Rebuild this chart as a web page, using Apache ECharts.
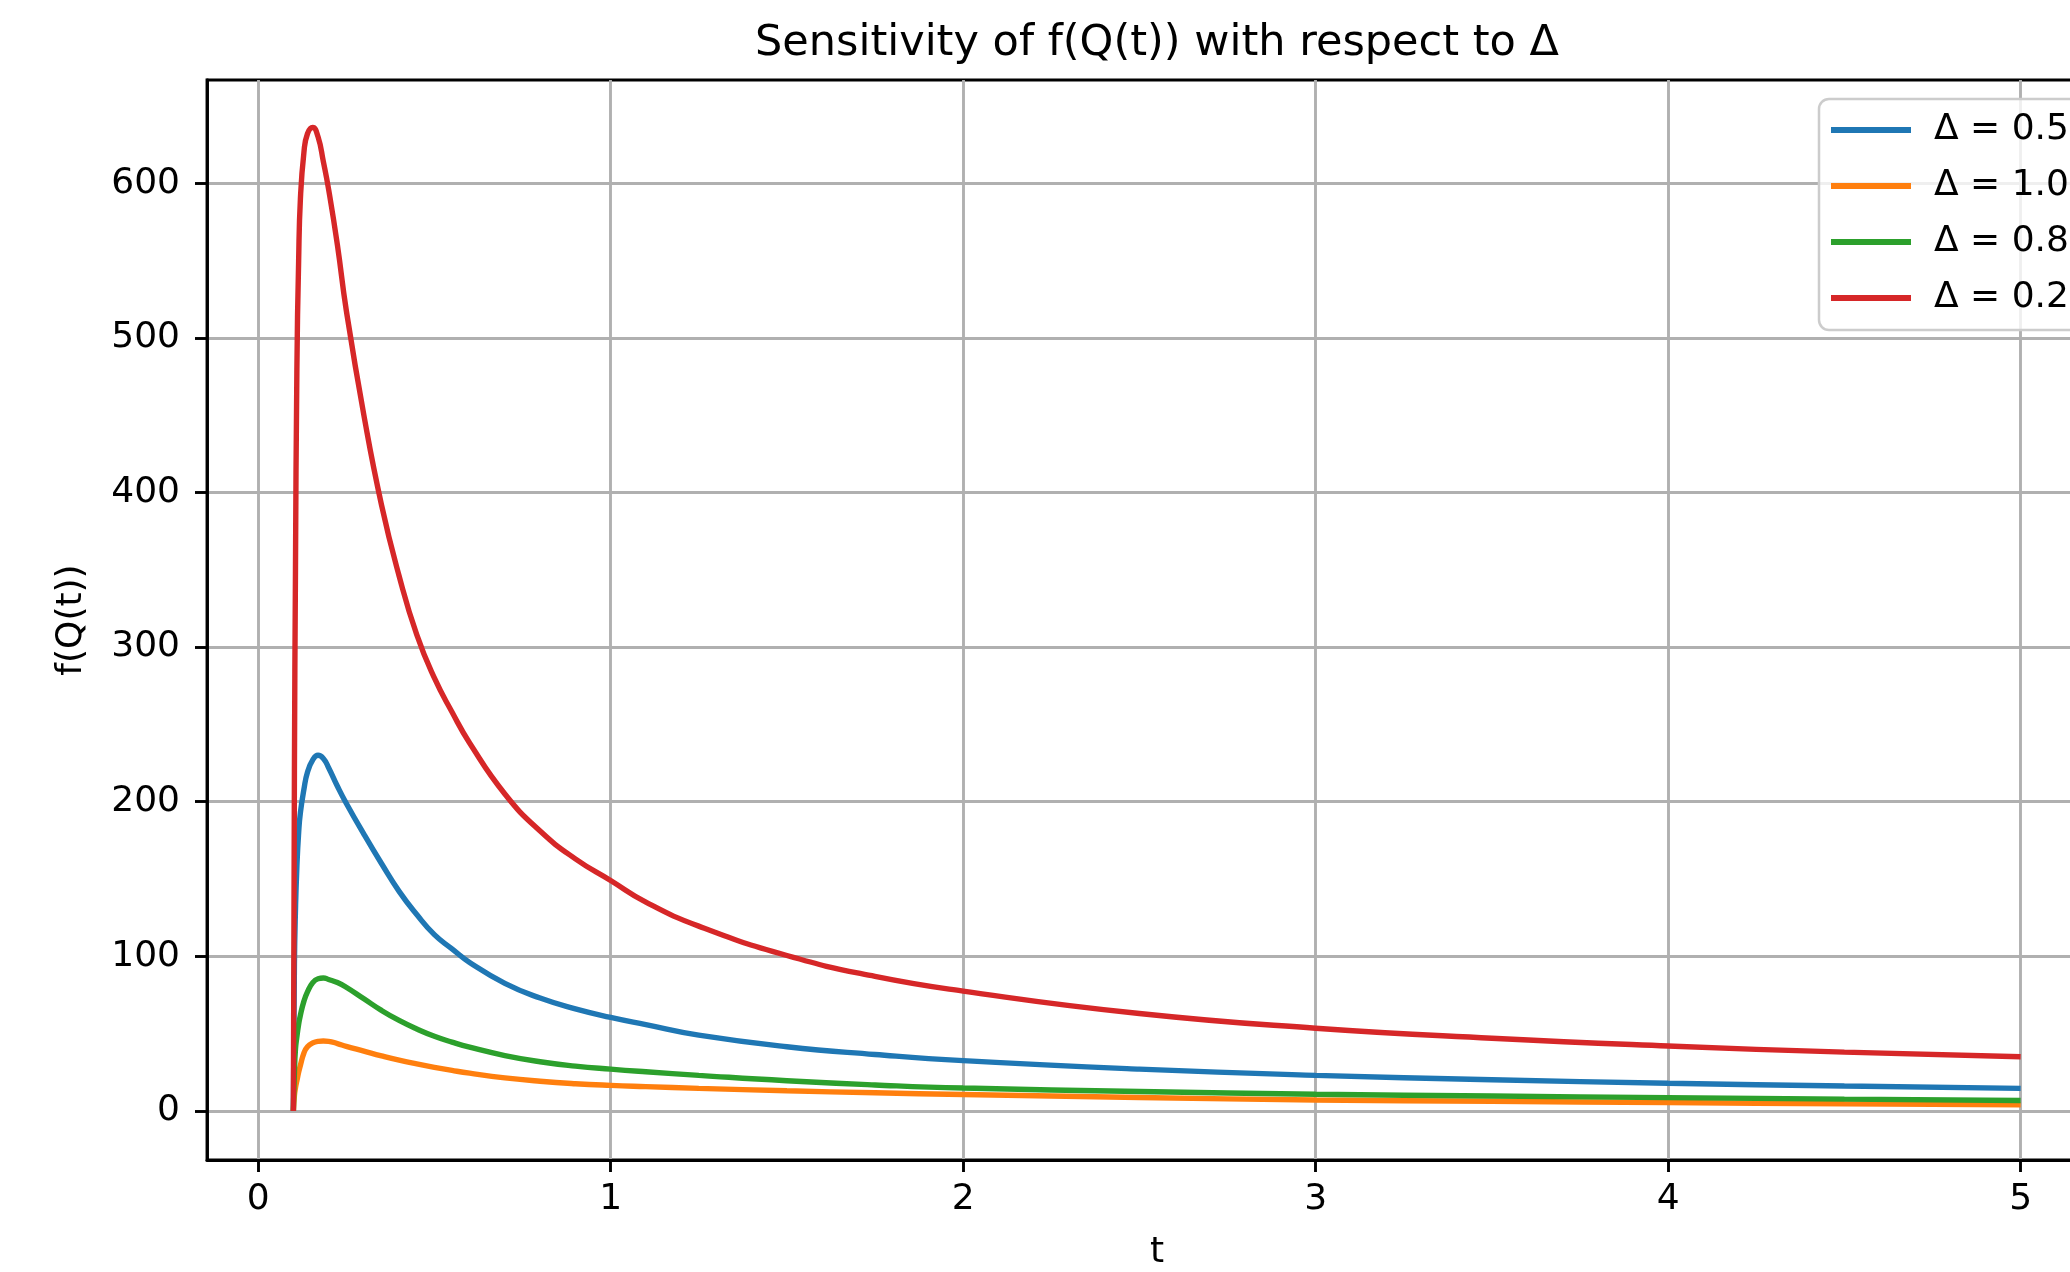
<!DOCTYPE html>
<html lang="en">
<head>
  <meta charset="UTF-8">
  <title>Sensitivity of f(Q(t))</title>
  <script src="https://cdn.jsdelivr.net/npm/echarts@6/dist/echarts.min.js"></script>
  <style>
    html, body { margin: 0; padding: 0; background: #fff; }
    #chart { width: 2070px; height: 1272px; }
  </style>
</head>
<body>
<div id="chart"></div>
<script>
  // sample times (t) shared by all curves
  let tValues = [0.1, 0.103, 0.106, 0.11, 0.115, 0.12, 0.13, 0.14, 0.155, 0.17, 0.185, 0.2, 0.225, 0.25,
    0.3, 0.35, 0.4, 0.45, 0.5, 0.55, 0.6, 0.7, 0.8, 0.9, 1.0, 1.1, 1.25, 1.5, 1.75, 2.0, 2.5, 3.0, 3.5, 4.0, 4.5, 5.0];

  // f(Q(t)), one list per delta
  let fDelta05 = [0, 95, 130, 158, 180, 193, 208, 219, 227, 230, 228, 222, 210, 199,
    179, 160, 142, 127, 114, 104.8, 96, 82.5, 73, 66, 60.5, 55.8, 49, 41.5, 36.5, 32.5, 27, 23, 20.2, 17.9, 16.1, 14.6];
  let fDelta10 = [0, 10, 15, 19.5, 25, 29.5, 37.5, 41.5, 44, 45, 45.2, 45, 43.5, 41.8,
    38.7, 35.6, 32.8, 30.4, 28.2, 26.2, 24.4, 21.4, 19.2, 17.6, 16.5, 15.7, 14.6, 13, 11.7, 10.6, 8.7, 7.1, 6.2, 5.4, 4.6, 3.9];
  let fDelta08 = [0, 25, 40, 48, 56, 62, 71, 77, 83, 85.5, 86, 85, 83, 80,
    72.5, 65, 58.5, 53, 48.3, 44.5, 41.2, 35.8, 31.8, 29, 27, 25.3, 23, 19.5, 16.8, 14.8, 12.6, 10.8, 9.6, 8.6, 7.6, 6.7];
  let fDelta02 = [0, 220, 350, 480, 550, 590, 620, 632, 636, 630, 614, 596, 560, 518,
    450, 392, 346, 308, 280, 258, 238, 205, 181, 163, 149, 135, 119.5, 100.5, 87, 77.5, 63, 53.5, 47, 42, 38, 35];

  let seriesNames = ['Δ = 0.5', 'Δ = 1.0', 'Δ = 0.8', 'Δ = 0.2'];
  let seriesColors = ['#1f77b4', '#ff7f0e', '#2ca02c', '#d62728'];
  let seriesValues = [fDelta05, fDelta10, fDelta08, fDelta02];

  let xTicks = [0, 1, 2, 3, 4, 5];
  let yTicks = [0, 100, 200, 300, 400, 500, 600];

  let font = 'DejaVu Sans';
  let oDiv = document.getElementById('chart');
  let myCharts = echarts.init(oDiv);

  let series = seriesNames.map((name, i) => ({
    name: name,
    type: 'line',
    data: tValues.map((t, k) => [t, seriesValues[i][k]]),
    showSymbol: false,
    symbol: 'none',
    smooth: 0.5,
    lineStyle: { color: seriesColors[i], width: 5.4 },
    itemStyle: { color: seriesColors[i] },
    animation: false
  }));

  let option = {
    backgroundColor: '#fff',
    title: {
      text: 'Sensitivity of f(Q(t)) with respect to Δ',
      left: 1157,
      top: 22,
      padding: 0,
      textAlign: 'center',
      textStyle: { fontFamily: font, fontSize: 43, fontWeight: 'normal', color: '#000' }
    },
    legend: {
      orient: 'vertical',
      left: 1819,
      top: 99,
      padding: [11, 60, 12, 12],
      backgroundColor: 'rgba(255,255,255,0.8)',
      borderColor: '#cccccc',
      borderWidth: 2.5,
      borderRadius: 10,
      icon: 'rect',
      itemWidth: 80,
      itemHeight: 6,
      itemGap: 16,
      data: seriesNames,
      textStyle: { fontFamily: font, fontSize: 36, color: '#000', lineHeight: 40, padding: [0, 0, 0, 18] }
    },
    grid: {
      left: 207,
      top: 80,
      width: 1900,
      height: 1080,
      containLabel: false,
      outerBoundsMode: 'none',
      show: true,
      borderColor: '#000',
      borderWidth: 2.9,
      backgroundColor: 'transparent'
    },
    xAxis: {
      type: 'value',
      min: -0.145,
      max: 5.245,
      name: 't',
      nameLocation: 'middle',
      nameGap: 75,
      nameTextStyle: { fontFamily: font, fontSize: 36, color: '#000' },
      axisLine: { show: true, onZero: false, lineStyle: { color: '#000', width: 2.9 } },
      axisTick: { show: true, length: 12, customValues: xTicks, lineStyle: { color: '#000', width: 2.9 } },
      axisLabel: { customValues: xTicks, margin: 22, fontFamily: font, fontSize: 36, color: '#000' },
      splitLine: { show: true, lineStyle: { color: '#b0b0b0', width: 2.9 } }
    },
    yAxis: {
      type: 'value',
      min: -31.75,
      max: 666.75,
      name: 'f(Q(t))',
      nameLocation: 'middle',
      nameRotate: 90,
      nameGap: 117,
      nameTextStyle: { fontFamily: font, fontSize: 36, color: '#000' },
      axisLine: { show: true, onZero: false, lineStyle: { color: '#000', width: 2.9 } },
      axisTick: { show: true, length: 12, customValues: yTicks, lineStyle: { color: '#000', width: 2.9 } },
      axisLabel: { customValues: yTicks, margin: 27, fontFamily: font, fontSize: 36, color: '#000' },
      splitLine: { show: true, lineStyle: { color: '#b0b0b0', width: 2.9 } }
    },
    series: series
  };
  myCharts.setOption(option);
</script>
</body>
</html>
